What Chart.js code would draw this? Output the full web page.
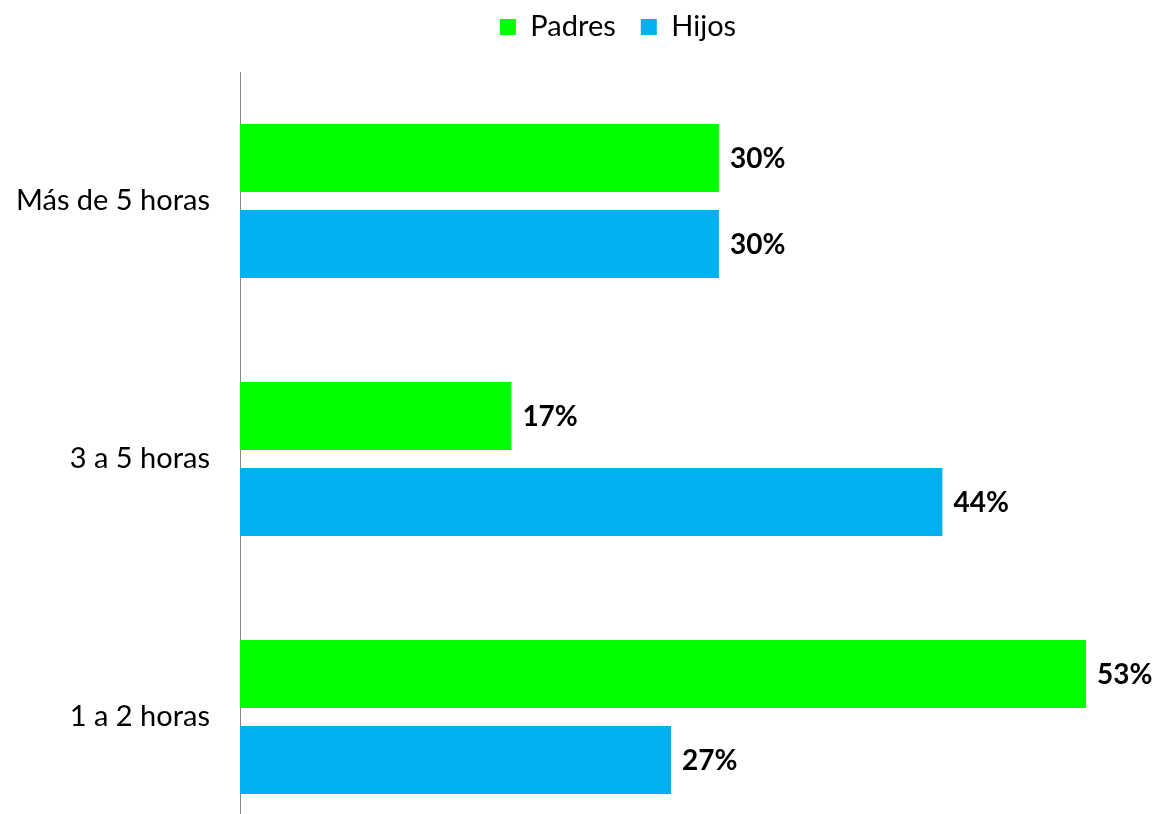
<!DOCTYPE html>
<html lang="es">
<head>
<meta charset="UTF-8">
<title>Horas de uso</title>
<script src="https://cdn.jsdelivr.net/npm/chart.js@4"></script>
<style>
  body { margin: 0; background: #fff; overflow: hidden; }
  canvas { display: block; }
</style>
</head>
<body>
<canvas id="grafico" width="1156" height="860"></canvas>
<script>
const categorias = ['Más de 5 horas', '3 a 5 horas', '1 a 2 horas'];
const padres = [30, 17, 53];
const hijos = [30, 44, 27];

const fuente = 'Lato, "Open Sans", sans-serif';

// etiquetas de valor a la derecha de cada barra
const etiquetasValor = {
  id: 'etiquetasValor',
  afterDatasetsDraw(chart) {
    const ctx = chart.ctx;
    ctx.save();
    ctx.font = 'bold 28px ' + fuente;
    ctx.fillStyle = '#000';
    ctx.textBaseline = 'middle';
    ctx.textAlign = 'left';
    chart.data.datasets.forEach((ds, i) => {
      chart.getDatasetMeta(i).data.forEach((bar, j) => {
        ctx.fillText(ds.data[j] + '%', bar.x + 11, bar.y + 1);
      });
    });
    ctx.restore();
  }
};

// leyenda: alto fijo y un poco desplazada hacia la derecha y arriba
const ajusteLeyenda = {
  id: 'ajusteLeyenda',
  beforeLayout(chart) {
    const leyenda = chart.legend;
    if (!leyenda || leyenda._ajustada) return;
    const fit = leyenda.fit;
    leyenda.fit = function () {
      fit.call(this);
      this.height += 8;
    };
    leyenda._ajustada = true;
  },
  afterLayout(chart) {
    const leyenda = chart.legend;
    leyenda.left += 118;
    leyenda.top -= 12.5;
    leyenda.bottom -= 12.5;
  }
};

new Chart(document.getElementById('grafico'), {
  type: 'bar',
  data: {
    labels: categorias,
    datasets: [
      { label: 'Padres', data: padres, backgroundColor: '#00FF00', categoryPercentage: 0.667, barPercentage: 0.79 },
      { label: 'Hijos', data: hijos, backgroundColor: '#00B0F0', categoryPercentage: 0.667, barPercentage: 0.79 }
    ]
  },
  options: {
    indexAxis: 'y',
    responsive: false,
    animation: false,
    layout: { padding: { top: 0, right: 38, bottom: 14, left: 0 } },
    plugins: {
      legend: {
        position: 'top',
        labels: {
          boxWidth: 16,
          boxHeight: 16,
          padding: 25,
          color: '#000',
          font: { family: fuente, size: 29 }
        }
      },
      tooltip: { enabled: false }
    },
    scales: {
      x: { display: false, min: 0, max: 55 },
      y: {
        grid: { display: false, drawTicks: false },
        border: { display: true, color: '#868686', width: 1 },
        ticks: { color: '#000', padding: 30, font: { family: fuente, size: 29 } },
        afterFit(scale) {
          scale.width = 240;
          scale.paddingTop = 0;
          scale.paddingBottom = 0;
        }
      }
    }
  },
  plugins: [etiquetasValor, ajusteLeyenda]
});
</script>
</body>
</html>
